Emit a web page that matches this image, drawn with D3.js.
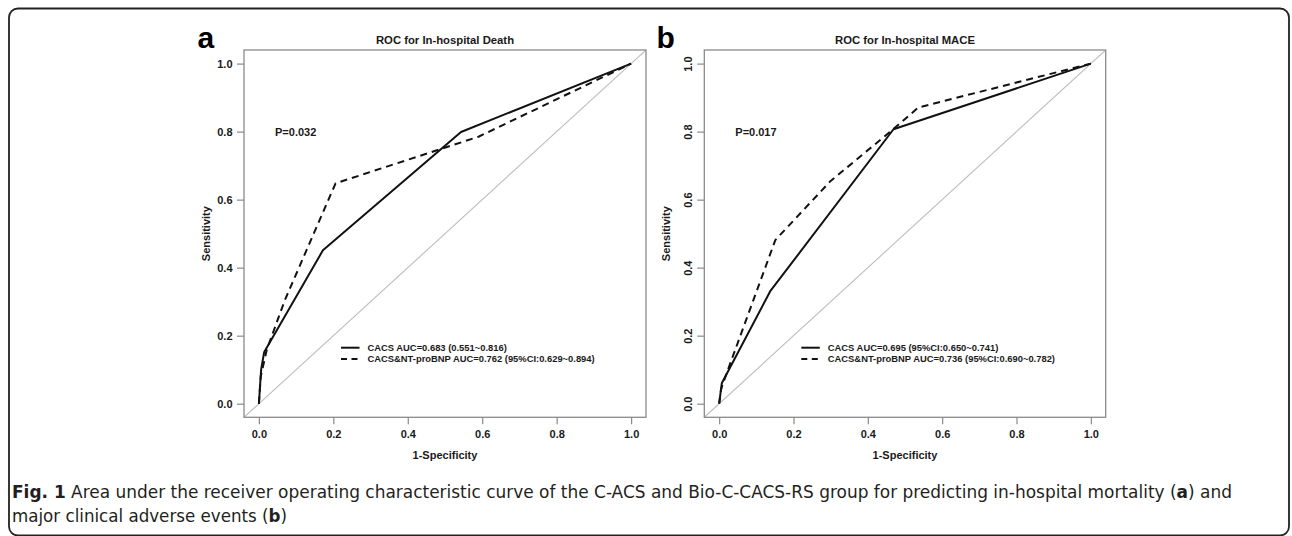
<!DOCTYPE html>
<html>
<head>
<meta charset="utf-8">
<script src="https://cdn.jsdelivr.net/npm/d3@7"></script>
<style>
  html, body { margin: 0; padding: 0; background: #fff; }
  svg { display: block; }
</style>
</head>
<body>
<svg id="chart" width="1292" height="536"></svg>
<script>
// ---------------- DATA ----------------
const tickValues = [0, 0.2, 0.4, 0.6, 0.8, 1.0];
const tickLabels = ["0.0", "0.2", "0.4", "0.6", "0.8", "1.0"];

const panelLetters = ["a", "b"];
const panelTitles = ["ROC for In-hospital Death", "ROC for In-hospital MACE"];
const pValues = ["P=0.032", "P=0.017"];
const xLabel = "1-Specificity";
const yLabel = "Sensitivity";

const legendA = ["CACS AUC=0.683 (0.551~0.816)", "CACS&NT-proBNP AUC=0.762 (95%CI:0.629~0.894)"];
const legendB = ["CACS AUC=0.695 (95%CI:0.650~0.741)", "CACS&NT-proBNP AUC=0.736 (95%CI:0.690~0.782)"];

// Panel a: in-hospital death
const aCacsFpr  = [0, 0.006, 0.014, 0.172, 0.543, 1];
const aCacsTpr  = [0, 0.10, 0.151, 0.451, 0.799, 1];
const aComboFpr = [0, 0.005, 0.021, 0.07, 0.206, 0.59, 1];
const aComboTpr = [0, 0.08, 0.158, 0.305, 0.648, 0.785, 1];

// Panel b: in-hospital MACE
const bCacsFpr  = [0, 0.007, 0.137, 0.469, 1];
const bCacsTpr  = [0, 0.06, 0.33, 0.807, 1];
const bComboFpr = [0, 0.005, 0.009, 0.151, 0.30, 0.465, 0.536, 1];
const bComboTpr = [0, 0.041, 0.056, 0.481, 0.655, 0.804, 0.871, 1];

const captionBold = "Fig. 1";
const captionLine1 = " Area under the receiver operating characteristic curve of the C-ACS and Bio-C-CACS-RS group for predicting in-hospital mortality (";
const captionLine1b = ") and";
const captionLine2 = "major clinical adverse events (";
const captionLine2b = ")";

// ---------------- LAYOUT ----------------
const svg = d3.select("#chart");
const FONT = "'Liberation Sans', Arial, Helvetica, sans-serif";

// outer frame
svg.append("rect")
  .attr("x", 9).attr("y", 8.5).attr("width", 1280).attr("height", 527)
  .attr("rx", 9).attr("ry", 9)
  .attr("fill", "none").attr("stroke", "#222").attr("stroke-width", 1.8);

const panels = [
  { left: 244, right: 646, rotY: false, legend: legendA,
    series: [[aCacsFpr, aCacsTpr], [aComboFpr, aComboTpr]] },
  { left: 704.3, right: 1105.7, rotY: true, legend: legendB,
    series: [[bCacsFpr, bCacsTpr], [bComboFpr, bComboTpr]] }
];
const boxTop = 50, boxBottom = 417.3;
const boxColor = "#8a8a8a";
const textColor = "#1a1a1a";

panels.forEach((p, i) => {
  const x = d3.scaleLinear().domain([-0.04, 1.04]).range([p.left, p.right]);
  const y = d3.scaleLinear().domain([-0.04, 1.04]).range([boxBottom, boxTop]);
  const g = svg.append("g").attr("font-family", FONT);

  const clipId = "clip" + i;
  g.append("clipPath").attr("id", clipId).append("rect")
    .attr("x", p.left).attr("y", boxTop)
    .attr("width", p.right - p.left).attr("height", boxBottom - boxTop);

  // reference diagonal
  g.append("line")
    .attr("clip-path", `url(#${clipId})`)
    .attr("x1", x(-0.04)).attr("y1", y(-0.04))
    .attr("x2", x(1.04)).attr("y2", y(1.04))
    .attr("stroke", "#bdbdbd").attr("stroke-width", 1.1);

  // curves
  const line = d3.line().x(d => x(d[0])).y(d => y(d[1]));
  p.series.forEach((s, k) => {
    const pts = s[0].map((v, j) => [v, s[1][j]]);
    g.append("path")
      .attr("d", line(pts))
      .attr("fill", "none")
      .attr("stroke", "#111")
      .attr("stroke-width", 2)
      .attr("stroke-linejoin", "round")
      .attr("stroke-dasharray", k === 1 ? "7,5" : null);
  });

  // box
  g.append("rect")
    .attr("x", p.left).attr("y", boxTop)
    .attr("width", p.right - p.left).attr("height", boxBottom - boxTop)
    .attr("fill", "none").attr("stroke", boxColor).attr("stroke-width", 1.3);

  // x axis
  const xa = g.append("g").attr("transform", `translate(0,${boxBottom})`)
    .call(d3.axisBottom(x).tickValues(tickValues)
      .tickFormat((d, j) => tickLabels[j]).tickSize(7).tickPadding(5.4));
  xa.select(".domain").remove();
  xa.selectAll("line").attr("stroke", boxColor).attr("stroke-width", 1.2);
  xa.selectAll("text").attr("font-family", FONT).attr("font-size", 11)
    .attr("font-weight", "bold").attr("fill", textColor);

  // y axis
  const ya = g.append("g").attr("transform", `translate(${p.left},0)`)
    .call(d3.axisLeft(y).tickValues(tickValues)
      .tickFormat((d, j) => tickLabels[j]).tickSize(7).tickPadding(4.5));
  ya.select(".domain").remove();
  ya.selectAll("line").attr("stroke", boxColor).attr("stroke-width", 1.2);
  const yt = ya.selectAll("text").attr("font-family", FONT).attr("font-size", 11)
    .attr("font-weight", "bold").attr("fill", textColor);
  if (p.rotY) {
    yt.attr("x", null).attr("dy", null)
      .attr("text-anchor", "middle")
      .attr("transform", "translate(-12.6,0) rotate(-90)");
  }

  // axis titles
  const cx = (x(0) + x(1)) / 2;
  g.append("text").attr("x", cx).attr("y", 459.3)
    .attr("text-anchor", "middle").attr("font-size", 11).attr("font-weight", "bold")
    .attr("fill", textColor).text(xLabel);
  const cy = (y(0) + y(1)) / 2;
  g.append("text")
    .attr("transform", `translate(${p.left - 34},${cy}) rotate(-90)`)
    .attr("text-anchor", "middle").attr("font-size", 11).attr("font-weight", "bold")
    .attr("fill", textColor).text(yLabel);

  // title
  g.append("text").attr("x", cx).attr("y", 43.5)
    .attr("text-anchor", "middle").attr("font-size", 11.3).attr("font-weight", "bold")
    .attr("fill", textColor).text(panelTitles[i]);

  // panel letter
  g.append("text").attr("x", p.left - (i === 0 ? 46.5 : 47.8)).attr("y", 48.3)
    .attr("font-size", 30).attr("font-weight", "bold").attr("fill", "#000")
    .text(panelLetters[i]);

  // P value
  g.append("text").attr("x", p.left + 31).attr("y", y(0.8) + 3.9)
    .attr("font-size", 11).attr("font-weight", "bold").attr("fill", textColor)
    .text(pValues[i]);

  // legend
  const rows = [347.7, 359];
  p.legend.forEach((t, k) => {
    g.append("line")
      .attr("x1", p.left + 97).attr("x2", p.left + 115.5)
      .attr("y1", rows[k]).attr("y2", rows[k])
      .attr("stroke", "#111").attr("stroke-width", 2)
      .attr("stroke-dasharray", k === 1 ? "6,4.5" : null);
    g.append("text").attr("x", p.left + 123.5).attr("y", rows[k] + 3.3)
      .attr("font-size", 9.4).attr("font-weight", "bold").attr("fill", textColor)
      .text(t);
  });
});

// caption
const CAPFONT = "'Liberation Sans Narrow', 'DejaVu Sans Condensed', 'Liberation Sans', sans-serif";
const c1 = svg.append("text").attr("x", 12).attr("y", 497.5)
  .attr("font-family", CAPFONT).attr("font-size", 17.5).attr("fill", "#231f20")
  .attr("textLength", 1220).attr("lengthAdjust", "spacingAndGlyphs");
c1.append("tspan").attr("font-weight", "bold").text(captionBold);
c1.append("tspan").text(captionLine1);
c1.append("tspan").attr("font-weight", "bold").text("a");
c1.append("tspan").text(captionLine1b);

const c2 = svg.append("text").attr("x", 12).attr("y", 521.5)
  .attr("font-family", CAPFONT).attr("font-size", 17.5).attr("fill", "#231f20")
  .attr("textLength", 275).attr("lengthAdjust", "spacingAndGlyphs");
c2.append("tspan").text(captionLine2);
c2.append("tspan").attr("font-weight", "bold").text("b");
c2.append("tspan").text(captionLine2b);
</script>
</body>
</html>
